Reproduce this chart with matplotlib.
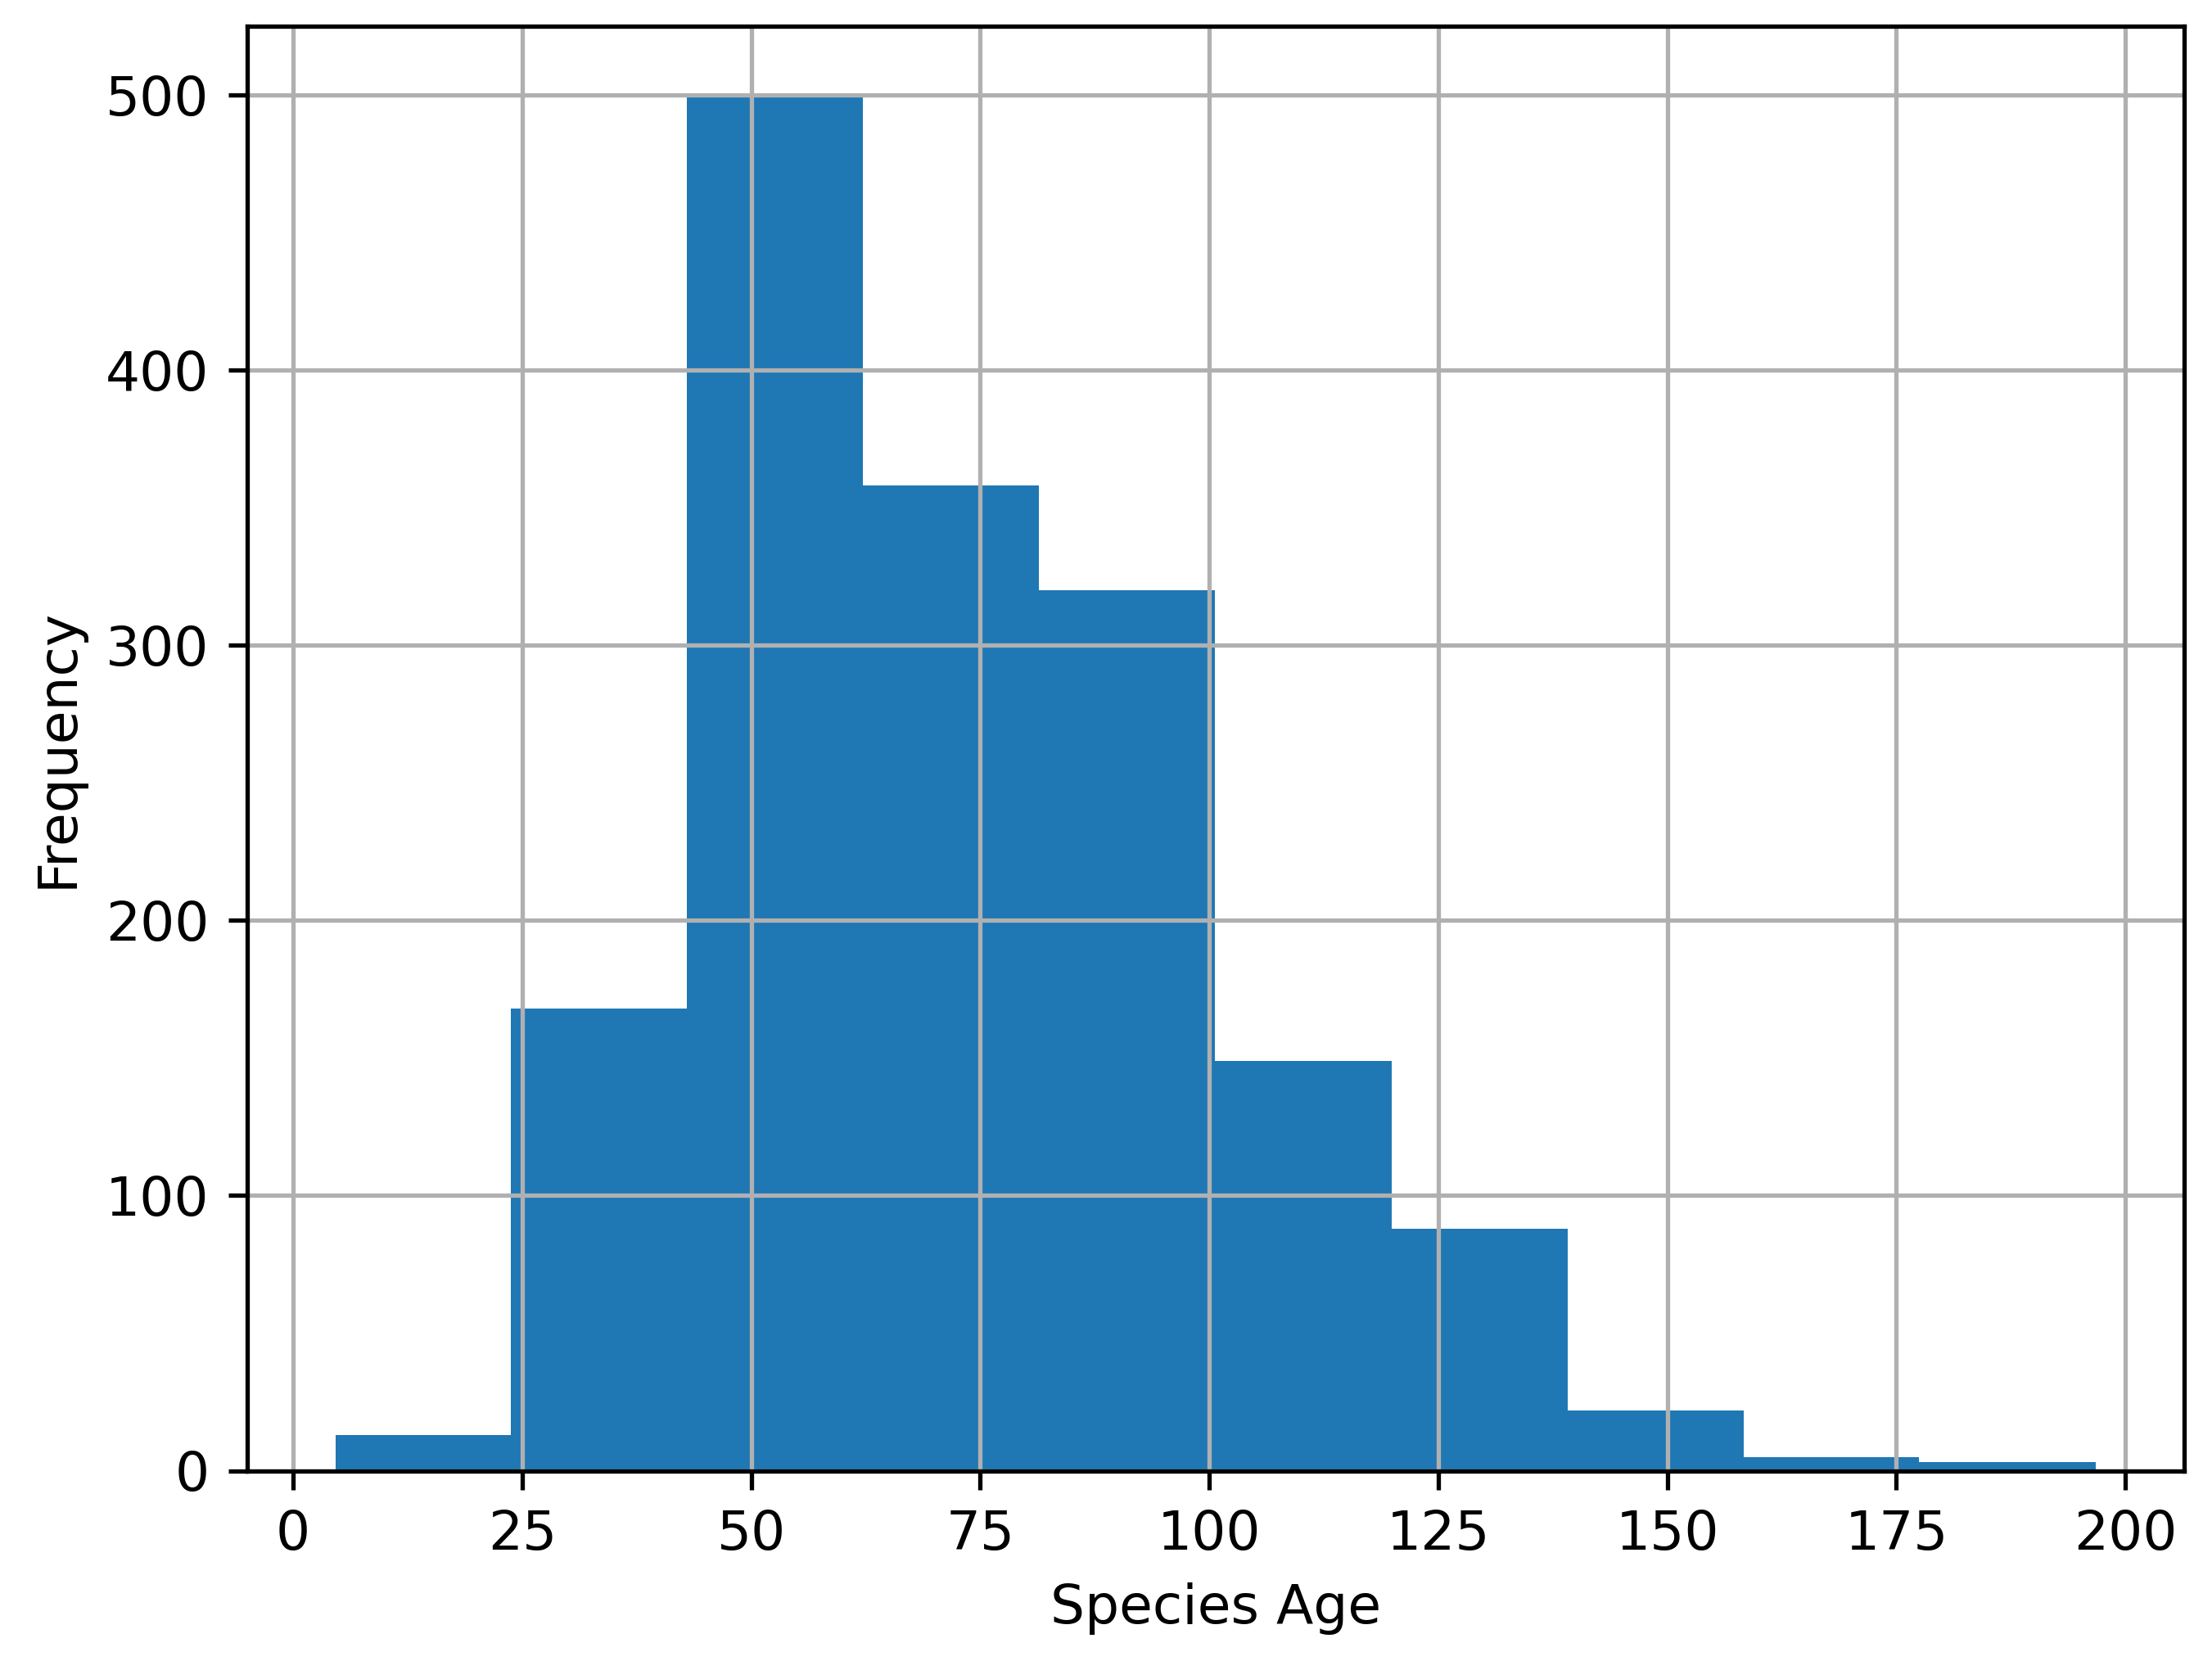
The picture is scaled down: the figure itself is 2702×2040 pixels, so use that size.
import matplotlib
matplotlib.use("Agg")
import matplotlib.pyplot as plt

# Histogram data
bin_edges = [4.6, 23.8, 43.0, 62.2, 81.4, 100.6, 119.9, 139.1, 158.3, 177.5, 196.8]
counts = [13, 168, 500, 358, 320, 149, 88, 22, 5, 3]
x_label = "Species Age"
y_label = "Frequency"

W, H = 2702, 2040
DPI = 477
fig = plt.figure(figsize=(W / DPI, H / DPI), dpi=DPI)
ax = fig.add_axes([302 / W, (H - 1796.5) / H, 2366 / W, 1765 / H])

ax.hist(bin_edges[:-1], bins=bin_edges, weights=counts, color="#1f77b4")
ax.grid(True)
ax.set_xlabel(x_label)
ax.set_ylabel(y_label)

fig.savefig("out.png", dpi=DPI)
